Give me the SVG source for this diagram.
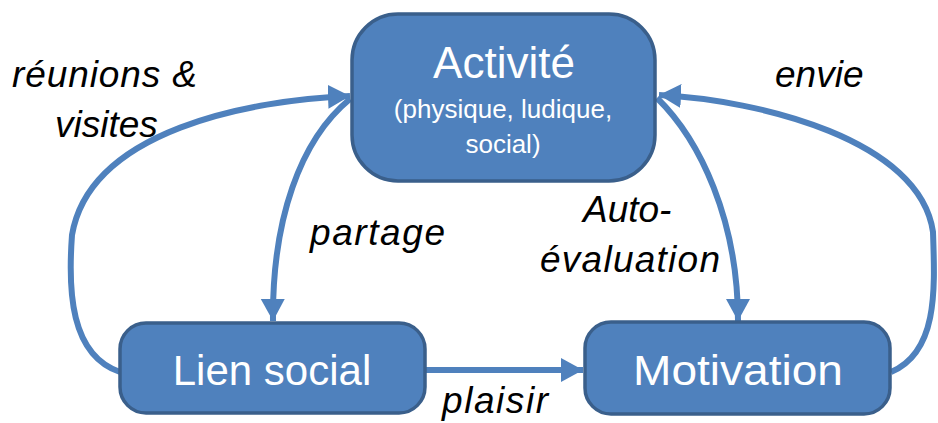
<svg xmlns="http://www.w3.org/2000/svg" width="938" height="423" viewBox="0 0 938 423">
<style>
.node{fill:#4F81BD;stroke:#3A5F8B;stroke-width:3.5}
.nt{fill:#fff;font-family:"Liberation Sans",Arial,sans-serif;text-anchor:middle}
.edge{fill:none;stroke:#4F81BD;stroke-width:6}
.lbl{fill:#000;font-family:"Liberation Sans",Arial,sans-serif;font-style:italic;font-size:37px}
</style>
<defs>
<marker id="arr" markerUnits="userSpaceOnUse" markerWidth="24" markerHeight="26" refX="22" refY="12" orient="auto" viewBox="0 0 24 24">
<path d="M0,0 L22,12 L0,24 Z" fill="#4F81BD"/>
</marker>
</defs>
<rect width="938" height="423" fill="#fff"/>
<g id="connectors">
<path class="edge" d="M120,372 C70,355 68,290 72,235 C90,130 250,100 350,96" marker-end="url(#arr)"/>
<path class="edge" d="M350,99 C300,140 272,220 273,321" marker-end="url(#arr)"/>
<path class="edge" d="M657,98 C700,140 738,220 738,321" marker-end="url(#arr)"/>
<path class="edge" d="M891,372 C938,352 935,290 933,232 C920,140 760,100 659,95" marker-end="url(#arr)"/>
<path class="edge" d="M425,370 L583,370" marker-end="url(#arr)"/>
</g>
<g id="activite">
<rect class="node" x="352" y="14" width="303" height="167" rx="46"/>
<text class="nt" x="504" y="78" font-size="44">Activité</text>
<text class="nt" x="503" y="118" font-size="26">(physique, ludique,</text>
<text class="nt" x="503" y="153" font-size="26">social)</text>
</g>
<g id="lien">
<rect class="node" x="120" y="323" width="305" height="90" rx="26"/>
<text class="nt" x="272" y="385" font-size="42">Lien social</text>
</g>
<g id="motivation">
<rect class="node" x="585" y="322" width="305" height="92" rx="26"/>
<text class="nt" x="738" y="385" font-size="42" textLength="210" lengthAdjust="spacingAndGlyphs">Motivation</text>
</g>
<g id="labels">
<text class="lbl" x="12" y="87" textLength="185">réunions &amp;</text>
<text class="lbl" x="55" y="137">visites</text>
<text class="lbl" x="310" y="245" textLength="135">partage</text>
<text class="lbl" x="583" y="222">Auto-</text>
<text class="lbl" x="540" y="272" textLength="180">évaluation</text>
<text class="lbl" x="775" y="87">envie</text>
<text class="lbl" x="442" y="413" textLength="106">plaisir</text>
</g>
</svg>
